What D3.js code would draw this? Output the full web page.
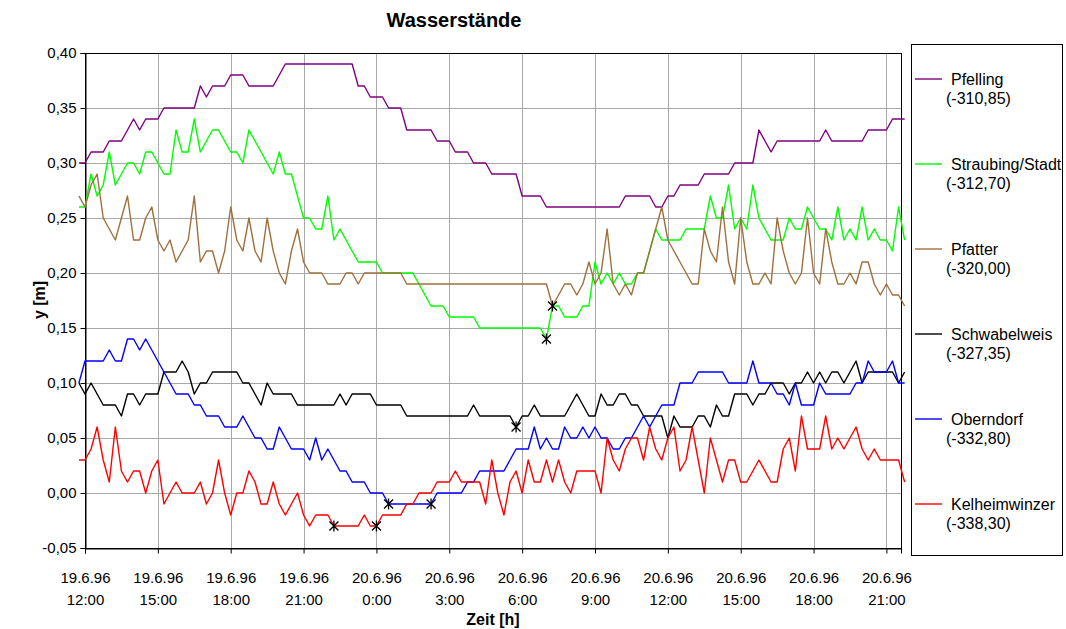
<!DOCTYPE html>
<html><head><meta charset="utf-8">
<script src="https://cdn.jsdelivr.net/npm/d3@7"></script>
<style>
body{margin:0;background:#fff}
svg{font-family:"Liberation Sans",Arial,sans-serif;display:block}
</style>
</head><body>
<svg id="chart" width="1066" height="629"></svg>
<script>
// ---------- data (15-minute readings, first reading 19.6.96 11:45) ----------
const firstReading = "1996-06-19T11:45";
const readingStepMinutes = 15;

const seriesNames = ["Pfelling", "Straubing/Stadt", "Pfatter", "Schwabelweis", "Oberndorf", "Kelheimwinzer"];
const seriesRefs  = ["(-310,85)", "(-312,70)", "(-320,00)", "(-327,35)", "(-332,80)", "(-338,30)"];

const pfelling = [0.30,
  0.30,0.31,0.31,0.31,0.32,0.32,0.32,0.33,0.34,0.33,0.34,0.34,
  0.34,0.35,0.35,0.35,0.35,0.35,0.35,0.37,0.36,0.37,0.37,0.37,
  0.38,0.38,0.38,0.37,0.37,0.37,0.37,0.37,0.38,0.39,0.39,0.39,
  0.39,0.39,0.39,0.39,0.39,0.39,0.39,0.39,0.39,0.37,0.37,0.36,
  0.36,0.36,0.35,0.35,0.35,0.33,0.33,0.33,0.33,0.33,0.32,0.32,
  0.32,0.31,0.31,0.31,0.30,0.30,0.30,0.29,0.29,0.29,0.29,0.29,
  0.27,0.27,0.27,0.27,0.26,0.26,0.26,0.26,0.26,0.26,0.26,0.26,
  0.26,0.26,0.26,0.26,0.26,0.27,0.27,0.27,0.27,0.27,0.26,0.26,
  0.27,0.27,0.28,0.28,0.28,0.28,0.29,0.29,0.29,0.29,0.29,0.30,
  0.30,0.30,0.30,0.33,0.32,0.31,0.32,0.32,0.32,0.32,0.32,0.32,
  0.32,0.32,0.33,0.32,0.32,0.32,0.32,0.32,0.32,0.33,0.33,0.33,
  0.33,0.34,0.34,0.34];

const straubing = [0.26,
  0.26,0.29,0.27,0.28,0.31,0.28,0.29,0.30,0.30,0.29,0.31,0.31,
  0.30,0.29,0.29,0.33,0.31,0.31,0.34,0.31,0.32,0.33,0.33,0.32,
  0.31,0.31,0.30,0.33,0.32,0.31,0.30,0.29,0.31,0.29,0.29,0.27,
  0.25,0.25,0.24,0.24,0.27,0.23,0.24,0.23,0.22,0.21,0.21,0.21,
  0.21,0.20,0.20,0.20,0.20,0.20,0.20,0.19,0.18,0.17,0.17,0.17,
  0.16,0.16,0.16,0.16,0.16,0.15,0.15,0.15,0.15,0.15,0.15,0.15,
  0.15,0.15,0.15,0.15,0.14,0.17,0.17,0.16,0.16,0.16,0.17,0.17,
  0.21,0.19,0.20,0.19,0.20,0.19,0.19,0.20,0.20,0.22,0.24,0.23,
  0.23,0.23,0.23,0.24,0.24,0.24,0.24,0.27,0.25,0.25,0.28,0.24,
  0.25,0.24,0.28,0.25,0.24,0.23,0.23,0.23,0.25,0.24,0.24,0.26,
  0.25,0.24,0.24,0.23,0.26,0.23,0.24,0.23,0.26,0.23,0.24,0.23,
  0.23,0.22,0.26,0.23];

const pfatter = [0.27,
  0.26,0.28,0.29,0.25,0.24,0.23,0.25,0.27,0.23,0.23,0.25,0.26,
  0.23,0.22,0.23,0.21,0.22,0.23,0.27,0.21,0.22,0.22,0.20,0.22,
  0.26,0.23,0.22,0.25,0.22,0.21,0.25,0.22,0.20,0.19,0.22,0.24,
  0.21,0.20,0.20,0.20,0.19,0.19,0.19,0.20,0.20,0.19,0.20,0.20,
  0.20,0.20,0.20,0.20,0.20,0.19,0.19,0.19,0.19,0.19,0.19,0.19,
  0.19,0.19,0.19,0.19,0.19,0.19,0.19,0.19,0.19,0.19,0.19,0.19,
  0.19,0.19,0.19,0.19,0.19,0.17,0.18,0.19,0.19,0.18,0.19,0.21,
  0.19,0.20,0.24,0.19,0.18,0.19,0.18,0.20,0.20,0.22,0.24,0.26,
  0.23,0.22,0.21,0.20,0.19,0.19,0.24,0.22,0.21,0.26,0.21,0.19,
  0.25,0.21,0.19,0.19,0.20,0.19,0.25,0.22,0.20,0.19,0.20,0.25,
  0.20,0.19,0.24,0.21,0.19,0.19,0.20,0.19,0.21,0.21,0.19,0.18,
  0.19,0.18,0.18,0.17];

const schwabelweis = [0.10,
  0.09,0.10,0.09,0.08,0.08,0.08,0.07,0.09,0.09,0.08,0.09,0.09,
  0.09,0.11,0.11,0.11,0.12,0.11,0.09,0.10,0.10,0.11,0.11,0.11,
  0.11,0.11,0.10,0.10,0.09,0.08,0.10,0.09,0.09,0.09,0.09,0.08,
  0.08,0.08,0.08,0.08,0.08,0.08,0.09,0.08,0.09,0.09,0.09,0.09,
  0.08,0.08,0.08,0.08,0.08,0.07,0.07,0.07,0.07,0.07,0.07,0.07,
  0.07,0.07,0.07,0.07,0.08,0.07,0.07,0.07,0.07,0.07,0.07,0.06,
  0.07,0.07,0.08,0.07,0.07,0.07,0.07,0.07,0.08,0.09,0.08,0.07,
  0.07,0.09,0.08,0.08,0.09,0.09,0.08,0.08,0.07,0.07,0.07,0.07,
  0.05,0.07,0.06,0.06,0.06,0.07,0.07,0.06,0.08,0.07,0.07,0.09,
  0.09,0.09,0.08,0.09,0.09,0.10,0.10,0.10,0.09,0.10,0.10,0.11,
  0.10,0.11,0.10,0.11,0.11,0.10,0.11,0.12,0.10,0.11,0.11,0.11,
  0.11,0.11,0.10,0.11];

const oberndorf = [0.10,
  0.12,0.12,0.12,0.12,0.13,0.12,0.12,0.14,0.14,0.13,0.14,0.13,
  0.12,0.11,0.10,0.09,0.09,0.09,0.08,0.08,0.07,0.07,0.07,0.06,
  0.06,0.06,0.07,0.06,0.05,0.05,0.04,0.04,0.06,0.05,0.04,0.04,
  0.04,0.03,0.05,0.03,0.04,0.03,0.02,0.02,0.01,0.01,0.01,0.00,
  0.00,0.00,-0.01,-0.01,-0.01,-0.01,-0.01,-0.01,-0.01,-0.01,0.00,0.00,
  0.00,0.00,0.00,0.01,0.01,0.02,0.02,0.02,0.02,0.02,0.03,0.04,
  0.04,0.04,0.06,0.04,0.05,0.04,0.04,0.06,0.05,0.05,0.06,0.05,
  0.06,0.05,0.05,0.04,0.04,0.05,0.05,0.06,0.07,0.06,0.07,0.08,
  0.08,0.08,0.10,0.10,0.10,0.11,0.11,0.11,0.11,0.11,0.10,0.10,
  0.10,0.10,0.12,0.10,0.10,0.10,0.09,0.09,0.08,0.10,0.08,0.08,
  0.08,0.10,0.09,0.09,0.09,0.09,0.09,0.10,0.10,0.12,0.11,0.11,
  0.11,0.12,0.10,0.10];

const kelheimwinzer = [0.03,
  0.03,0.04,0.06,0.03,0.01,0.06,0.02,0.01,0.02,0.02,0.00,0.02,
  0.03,-0.01,0.00,0.01,0.00,0.00,0.00,0.01,-0.01,0.00,0.03,0.00,
  -0.02,0.00,0.00,0.02,0.01,-0.01,-0.01,0.01,-0.01,-0.02,-0.01,0.00,
  -0.02,-0.03,-0.02,-0.02,-0.02,-0.03,-0.03,-0.03,-0.03,-0.03,-0.02,-0.03,
  -0.03,-0.02,-0.02,-0.02,-0.02,-0.01,-0.01,0.00,0.00,0.00,0.01,0.01,
  0.01,0.02,0.01,0.01,0.01,0.01,-0.01,0.03,0.00,-0.02,0.01,0.02,
  0.00,0.03,0.01,0.01,0.03,0.01,0.03,0.01,0.00,0.02,0.02,0.02,
  0.02,0.00,0.05,0.03,0.02,0.04,0.05,0.05,0.03,0.06,0.04,0.03,
  0.05,0.06,0.02,0.03,0.06,0.03,0.00,0.05,0.03,0.01,0.03,0.03,
  0.01,0.01,0.02,0.03,0.02,0.01,0.01,0.04,0.05,0.02,0.07,0.04,
  0.04,0.04,0.07,0.04,0.05,0.04,0.05,0.06,0.04,0.03,0.04,0.03,
  0.03,0.03,0.03,0.01];

const seriesValues = [pfelling, straubing, pfatter, schwabelweis, oberndorf, kelheimwinzer];

// highlighted readings (asterisks): series + time of reading
const markerSeries = ["Kelheimwinzer", "Kelheimwinzer", "Oberndorf", "Oberndorf", "Schwabelweis", "Straubing/Stadt", "Straubing/Stadt"];
const markerTimes  = ["1996-06-19T22:15", "1996-06-20T00:00", "1996-06-20T00:30", "1996-06-20T02:15", "1996-06-20T05:45", "1996-06-20T07:00", "1996-06-20T07:15"];

const yTickValues = [-0.05, 0.00, 0.05, 0.10, 0.15, 0.20, 0.25, 0.30, 0.35, 0.40];
const xDomain = ["1996-06-19T12:00", "1996-06-20T21:36"];
const titleText = "Wasserstände";
const yTitle = "y [m]";
const xTitle = "Zeit [h]";

// ---------- styles ----------
const seriesColors = ["#800080", "#00ff00", "#a0703c", "#000000", "#0000ff", "#ff0000"];

// ---------- drawing ----------
const parse = d3.timeParse("%Y-%m-%dT%H:%M");
const t0 = parse(firstReading);
const svg = d3.select("#chart");
const plot = {left: 85, right: 901, top: 53, bottom: 548};

const x = d3.scaleTime().domain(xDomain.map(parse)).range([plot.left, plot.right]);
const y = d3.scaleLinear().domain([-0.05, 0.40]).range([plot.bottom, plot.top]);

const locale = d3.formatLocale({decimal: ",", thousands: ".", grouping: [3], currency: ["", " €"], minus: "-"});
const yFmt = locale.format(".2f");
const dateFmt = d3.timeFormat("%-d.%-m.%y");
const timeFmt = d3.timeFormat("%-H:%M");

const xTicks = x.ticks(d3.timeHour.every(3));

// gridlines
const grid = svg.append("g").attr("stroke", "#a8a8a8").attr("stroke-width", 1);
grid.selectAll("line.h").data(yTickValues.filter(v => v > -0.05)).join("line")
  .attr("x1", plot.left).attr("x2", plot.right)
  .attr("y1", d => Math.round(y(d)) + 0.5).attr("y2", d => Math.round(y(d)) + 0.5);
grid.selectAll("line.v").data(xTicks.filter(d => +d > +x.domain()[0])).join("line")
  .attr("y1", plot.top).attr("y2", plot.bottom)
  .attr("x1", d => Math.round(x(d)) + 0.5).attr("x2", d => Math.round(x(d)) + 0.5);

// plot frame
svg.append("rect").attr("x", plot.left + 0.5).attr("y", plot.top + 0.5)
  .attr("width", plot.right - plot.left).attr("height", plot.bottom - plot.top)
  .attr("fill", "none").attr("stroke", "#000").attr("stroke-width", 1);

// axes
const yAxis = d3.axisLeft(y).tickValues(yTickValues).tickFormat(yFmt).tickSize(5).tickPadding(4);
const gy = svg.append("g").attr("transform", `translate(${plot.left + 0.5},0)`).call(yAxis);
gy.select(".domain").attr("stroke", "#000");
gy.selectAll("text").attr("font-size", 15).attr("fill", "#000").attr("font-family", "Liberation Sans, Arial, sans-serif");

const xAxis = d3.axisBottom(x).tickValues(xTicks).tickFormat(() => "").tickSize(5);
const gx = svg.append("g").attr("transform", `translate(0,${plot.bottom + 0.5})`).call(xAxis);
gx.selectAll(".tick text").remove();
gx.selectAll(".tick").each(function(d) {
  const g = d3.select(this);
  g.append("text").attr("y", 34).attr("text-anchor", "middle").attr("fill", "#000")
    .attr("font-size", 15).text(dateFmt(d));
  g.append("text").attr("y", 56).attr("text-anchor", "middle").attr("fill", "#000")
    .attr("font-size", 15).text(timeFmt(d));
});

// series lines
const line = d3.line().x(d => x(d.t)).y(d => y(d.v));
const series = seriesNames.map((name, k) => ({
  name, ref: seriesRefs[k], color: seriesColors[k],
  points: seriesValues[k].map((v, i) => ({t: d3.timeMinute.offset(t0, i * readingStepMinutes), v}))
}));
svg.append("g").selectAll("path").data(series).join("path")
  .attr("d", s => line(s.points)).attr("fill", "none")
  .attr("stroke", s => s.color).attr("stroke-width", 1.4).attr("stroke-linejoin", "round");

// asterisk markers
const markerData = markerSeries.map((name, k) => {
  const s = series.find(q => q.name === name);
  const tm = parse(markerTimes[k]);
  return s.points.find(q => +q.t === +tm);
});
svg.append("g").selectAll("path").data(markerData).join("path")
  .attr("transform", d => `translate(${x(d.t)},${y(d.v)})`)
  .attr("d", "M0,-5.5L0,5.5M-4.5,-4.5L4.5,4.5M-4.5,4.5L4.5,-4.5")
  .attr("stroke", "#000").attr("stroke-width", 1.3).attr("fill", "none");

// titles
svg.append("text").attr("x", 454).attr("y", 27).attr("text-anchor", "middle")
  .attr("font-size", 20).attr("font-weight", "bold").text(titleText);
svg.append("text").attr("transform", "translate(45,300) rotate(-90)").attr("text-anchor", "middle")
  .attr("font-size", 16).attr("font-weight", "bold").text(yTitle);
svg.append("text").attr("x", 493).attr("y", 625).attr("text-anchor", "middle")
  .attr("font-size", 16).attr("font-weight", "bold").text(xTitle);

// legend
const legend = svg.append("g");
legend.append("rect").attr("x", 911.5).attr("y", 44.5).attr("width", 151).attr("height", 511)
  .attr("fill", "#fff").attr("stroke", "#000").attr("stroke-width", 1);
const items = legend.selectAll("g.item").data(series).join("g")
  .attr("transform", (d, k) => `translate(0,${79 + 85 * k})`);
items.append("line").attr("x1", 915).attr("x2", 942).attr("y1", 0).attr("y2", 0)
  .attr("stroke", d => d.color).attr("stroke-width", 1.4);
items.append("text").attr("x", 951).attr("y", 5.5).attr("font-size", 16).text(d => d.name);
items.append("text").attr("x", 946).attr("y", 24.5).attr("font-size", 16).text(d => d.ref);
</script>
</body></html>
